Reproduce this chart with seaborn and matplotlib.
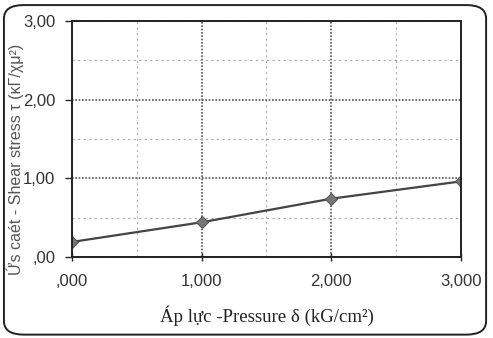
import matplotlib
matplotlib.use('Agg')
import matplotlib.pyplot as plt
import seaborn as sns
import pandas as pd
from matplotlib.patches import FancyBboxPatch
from matplotlib.ticker import MultipleLocator, FixedFormatter, FixedLocator

pressure = [0.0, 1.0, 2.0, 3.0]
shear = [0.19, 0.44, 0.74, 0.96]
x_labels = [',000', '1,000', '2,000', '3,000']
y_labels = [',00', '1,00', '2,00', '3,00']

df = pd.DataFrame({'pressure': pressure, 'shear': shear})

sns.set_style('white')
plt.rcParams['font.family'] = ['Liberation Sans', 'DejaVu Sans']

fig = plt.figure(figsize=(4.93, 3.38), dpi=100)
ax = fig.add_axes([0.146, 0.240, 0.789, 0.698])

# rounded frame around the whole chart
frame = FancyBboxPatch((0.008, 0.01), 0.978, 0.975, boxstyle='round,pad=0,rounding_size=0.04',
                       transform=fig.transFigure, fill=False, edgecolor='#222222', linewidth=1.4)
fig.patches.append(frame)

sns.lineplot(data=df, x='pressure', y='shear', ax=ax, color='#444444', linewidth=1.6,
             marker='D', markersize=6, markerfacecolor='#777777', markeredgecolor='#555555')

ax.set_xlim(0, 3)
ax.set_ylim(0, 3)
ax.xaxis.set_major_locator(FixedLocator(pressure))
ax.xaxis.set_major_formatter(FixedFormatter(x_labels))
ax.yaxis.set_major_locator(FixedLocator([0, 1, 2, 3]))
ax.yaxis.set_major_formatter(FixedFormatter(y_labels))
ax.xaxis.set_minor_locator(MultipleLocator(0.5))
ax.yaxis.set_minor_locator(MultipleLocator(0.5))

ax.grid(which='major', color='#555555', linestyle=(0, (1, 1)), linewidth=1.2)
ax.grid(which='minor', color='#aaaaaa', linestyle=(0, (2, 3)), linewidth=0.8)

for s in ax.spines.values():
    s.set_color('#222222')
    s.set_linewidth(1.4)

ax.tick_params(axis='y', which='major', direction='out', length=5, width=1, labelsize=12,
               labelcolor='#333333', left=True, pad=7)
ax.tick_params(axis='x', which='major', direction='inout', length=6, width=1, labelsize=12,
               labelcolor='#333333', bottom=True, pad=9)
ax.tick_params(which='minor', length=0)

ax.set_xlabel('Áp lực -Pressure δ (kG/cm²)', family=['Liberation Serif', 'DejaVu Serif'],
              fontsize=13.5, color='#222222', labelpad=12)
ax.set_ylabel("Ứs caét - Shear stress τ (κΓ/χμ²)", fontsize=11.5, color='#555555')
ax.yaxis.set_label_coords(-0.123, 0.415)

fig.savefig('out.png', dpi=100)
